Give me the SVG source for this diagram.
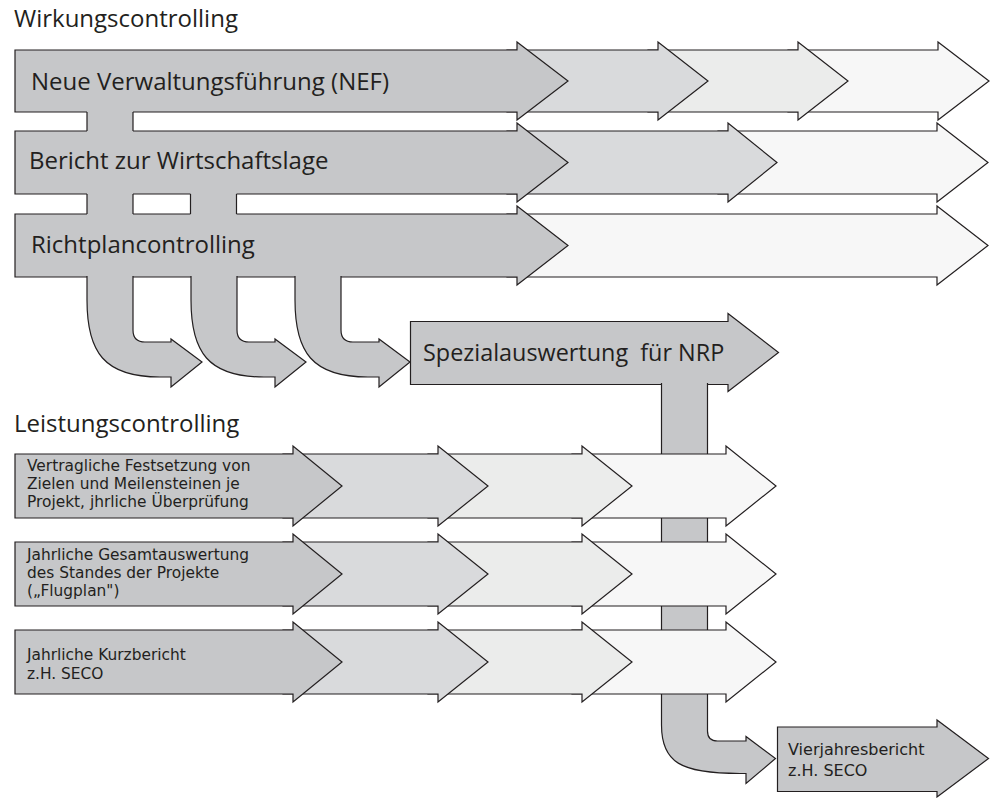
<svg xmlns="http://www.w3.org/2000/svg" width="995" height="798" viewBox="0 0 995 798">
<style>
.a{stroke:#231f20;stroke-width:1.2;stroke-linejoin:miter}
.f1{fill:#c6c7c9}.f2{fill:#d9dadc}.f3{fill:#ebeceb}.f4{fill:#f7f7f7}
.ln{stroke:#231f20;stroke-width:1.2;fill:none}
.cv{fill:#c6c7c9;stroke:#231f20;stroke-width:1.2}
.t{font-family:"Open Sans","Liberation Sans",sans-serif;fill:#231f20}
.big{font-size:24px}
.sm{font-family:"DejaVu Sans","Liberation Sans",sans-serif;font-size:15.4px}
.vj{font-family:"DejaVu Sans","Liberation Sans",sans-serif;font-size:16px}
</style>
<rect width="995" height="798" fill="#fff"/>
<g id="titles">
<text class="t big" x="14" y="27">Wirkungscontrolling</text>
<text class="t big" x="14" y="432">Leistungscontrolling</text>
</g>
<g id="row-nef">
<path class="a f4" d="M788,50 L938,50 L938,42 L989,81 L938,120 L938,112 L788,112 Z"/>
<path class="a f3" d="M648,50 L798,50 L798,42 L848,81 L798,120 L798,112 L648,112 Z"/>
<path class="a f2" d="M507,50 L658,50 L658,42 L708,81 L658,120 L658,112 L507,112 Z"/>
<path class="a f1" d="M15,50 L517,50 L517,42 L568,81 L517,120 L517,112 L15,112 Z"/>
<text class="t big" x="31" y="90">Neue Verwaltungsführung (NEF)</text>
</g>
<g id="row-wirtschaft">
<path class="a f4" d="M718,131 L937,131 L937,123 L988,162.5 L937,202 L937,194 L718,194 Z"/>
<path class="a f2" d="M507,131 L728,131 L728,123 L777,162.5 L728,202 L728,194 L507,194 Z"/>
<path class="a f1" d="M15,131 L517,131 L517,123 L568,162.5 L517,202 L517,194 L15,194 Z"/>
<text class="t big" x="29" y="169">Bericht zur Wirtschaftslage</text>
</g>
<g id="row-richtplan">
<path class="a f4" d="M507,214 L937,214 L937,206 L988,245.5 L937,285 L937,277 L507,277 Z"/>
<path class="a f1" d="M15,214 L517,214 L517,206 L568,245.5 L517,285 L517,277 L15,277 Z"/>
<text class="t big" x="31" y="253">Richtplancontrolling</text>
</g>
<g id="connectors">
<rect class="f1" x="87" y="111" width="46" height="21"/>
<path class="ln" d="M87,112 V131 M133,112 V131"/>
<rect class="f1" x="87" y="193" width="46" height="22"/>
<rect class="f1" x="190.5" y="193" width="46" height="22"/>
<path class="ln" d="M87,194 V214 M133,194 V214 M190.5,194 V214 M236.5,194 V214"/>
<path class="cv" d="M295,276 L295,300 C295,352 312,377 368,377 L379,377 L379,387 L410,362 L379,339 L379,342 L353,342 Q341,342 341,330 L341,276"/>
<path class="cv" d="M191,276 L191,300 C191,352 208,377 264,377 L275,377 L275,387 L306,362 L275,339 L275,342 L249,342 Q237,342 237,330 L237,276"/>
<path class="cv" d="M87,276 L87,300 C87,352 104,377 160,377 L171,377 L171,387 L202,362 L171,339 L171,342 L145,342 Q133,342 133,330 L133,276"/>
</g>
<g id="spezial">
<path class="a f1" d="M410.5,321.5 L728,321.5 L728,313.5 L778.5,352.5 L728,391.5 L728,384.5 L410.5,384.5 Z"/>
<text class="t" style="font-size:23.4px" x="423" y="361" xml:space="preserve">Spezialauswertung  für NRP</text>
</g>
<g id="stem">
<path class="cv" d="M661.5,383 L661.5,725 C661.5,762 680,773.5 740,773.5 L746,773.5 L746,783.5 L775.5,758.5 L746,736.5 L746,741 L717.5,741 Q707.5,741 707.5,731 L707.5,383"/>
</g>
<g id="row-vertraglich">
<path class="a f4" d="M572,454 L726,454 L726,446 L776,486 L726,526 L726,518 L572,518 Z"/>
<path class="a f3" d="M428,454 L582,454 L582,446 L632,486 L582,526 L582,518 L428,518 Z"/>
<path class="a f2" d="M283,454 L438,454 L438,446 L488,486 L438,526 L438,518 L283,518 Z"/>
<path class="a f1" d="M15,454 L293,454 L293,446 L342,486 L293,526 L293,518 L15,518 Z"/>
<text class="t sm" x="27" y="471">Vertragliche Festsetzung von</text>
<text class="t sm" x="27" y="489">Zielen und Meilensteinen je</text>
<text class="t sm" x="27" y="507">Projekt, jhrliche Überprüfung</text>
</g>
<g id="row-gesamt">
<path class="a f4" d="M572,542 L726,542 L726,534 L776,574 L726,614 L726,606 L572,606 Z"/>
<path class="a f3" d="M428,542 L582,542 L582,534 L632,574 L582,614 L582,606 L428,606 Z"/>
<path class="a f2" d="M283,542 L438,542 L438,534 L488,574 L438,614 L438,606 L283,606 Z"/>
<path class="a f1" d="M15,542 L293,542 L293,534 L342,574 L293,614 L293,606 L15,606 Z"/>
<text class="t sm" x="27" y="560">Jahrliche Gesamtauswertung</text>
<text class="t sm" x="27" y="578">des Standes der Projekte</text>
<text class="t sm" x="27" y="596">(„Flugplan")</text>
</g>
<g id="row-kurz">
<path class="a f4" d="M572,630 L726,630 L726,622 L776,662 L726,702 L726,694 L572,694 Z"/>
<path class="a f3" d="M428,630 L582,630 L582,622 L632,662 L582,702 L582,694 L428,694 Z"/>
<path class="a f2" d="M283,630 L438,630 L438,622 L488,662 L438,702 L438,694 L283,694 Z"/>
<path class="a f1" d="M15,630 L293,630 L293,622 L342,662 L293,702 L293,694 L15,694 Z"/>
<text class="t sm" x="27" y="660">Jahrliche Kurzbericht</text>
<text class="t sm" x="27" y="679">z.H. SECO</text>
</g>
<g id="vierjahres">
<path class="a f1" d="M777.5,727 L937,727 L937,720 L988.5,758.5 L937,797 L937,791.5 L777.5,791.5 Z"/>
<text class="t vj" x="788" y="755">Vierjahresbericht</text>
<text class="t vj" x="788" y="776">z.H. SECO</text>
</g>
</svg>
